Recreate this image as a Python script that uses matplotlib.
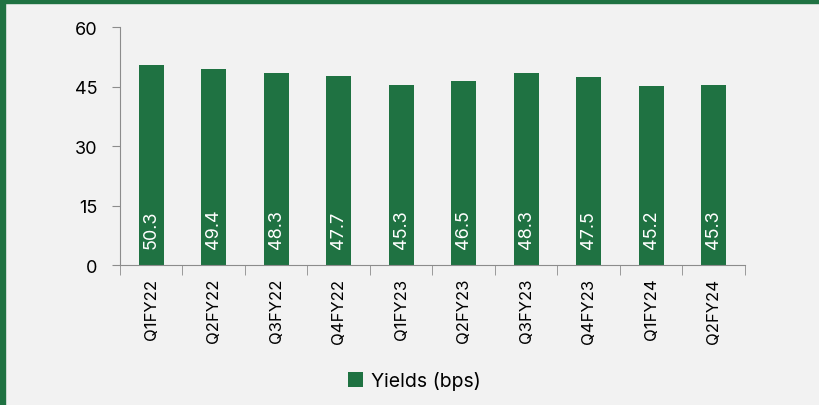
import matplotlib
matplotlib.use('Agg')
import matplotlib.pyplot as plt
from matplotlib.patches import Rectangle

quarters = ['Q1FY22', 'Q2FY22', 'Q3FY22', 'Q4FY22', 'Q1FY23',
            'Q2FY23', 'Q3FY23', 'Q4FY23', 'Q1FY24', 'Q2FY24']
yields_bps = [50.3, 49.4, 48.3, 47.7, 45.3, 46.5, 48.3, 47.5, 45.2, 45.3]

green = '#1F7242'
bg = '#F2F2F2'
axis_grey = '#8C8C8C'

plt.rcParams['font.family'] = ['Inter', 'DejaVu Sans']

fig = plt.figure(figsize=(8.2, 4.06), dpi=100, facecolor=bg)
ax = fig.add_axes([0.1463, 0.3448, 0.7622, 0.5862])
ax.set_facecolor(bg)

x = list(range(len(quarters)))
bars = ax.bar(x, yields_bps, width=0.4, color=green, label='Yields (bps)', zorder=2)

# value labels inside the bars, reading bottom-up
for rect, v in zip(bars, yields_bps):
    ax.text(rect.get_x() + rect.get_width() / 2, 4.3, f'{v:.1f}', rotation=90,
            ha='center', va='bottom', color='white', fontsize=13)

ax.set_xlim(-0.5, len(quarters) - 0.5)
ax.set_ylim(0, 60)
ax.set_yticks([0, 15, 30, 45, 60])
ax.tick_params(axis='y', labelsize=13, length=6, color=axis_grey, pad=10)

# category labels between boundary ticks
ax.set_xticks(x)
ax.set_xticklabels(quarters, rotation=90, fontsize=12)
ax.tick_params(axis='x', which='major', length=0, pad=9)
ax.set_xticks([i - 0.5 for i in range(len(quarters) + 1)], minor=True)
ax.tick_params(axis='x', which='minor', length=7, color=axis_grey)

for side in ['top', 'right']:
    ax.spines[side].set_visible(False)
for side in ['left', 'bottom']:
    ax.spines[side].set_color(axis_grey)

leg = fig.legend(loc='center', bbox_to_anchor=(0.505, 0.06), frameon=False,
                 fontsize=14, handlelength=0.8, handleheight=0.8, handletextpad=0.4)

# green frame on top and left
fig.patches.append(Rectangle((0, 0.99), 1, 0.01, transform=fig.transFigure,
                             color=green, zorder=5))
fig.patches.append(Rectangle((0, 0), 0.006, 1, transform=fig.transFigure,
                             color=green, zorder=5))

fig.savefig('out.png', dpi=100, facecolor=bg)
